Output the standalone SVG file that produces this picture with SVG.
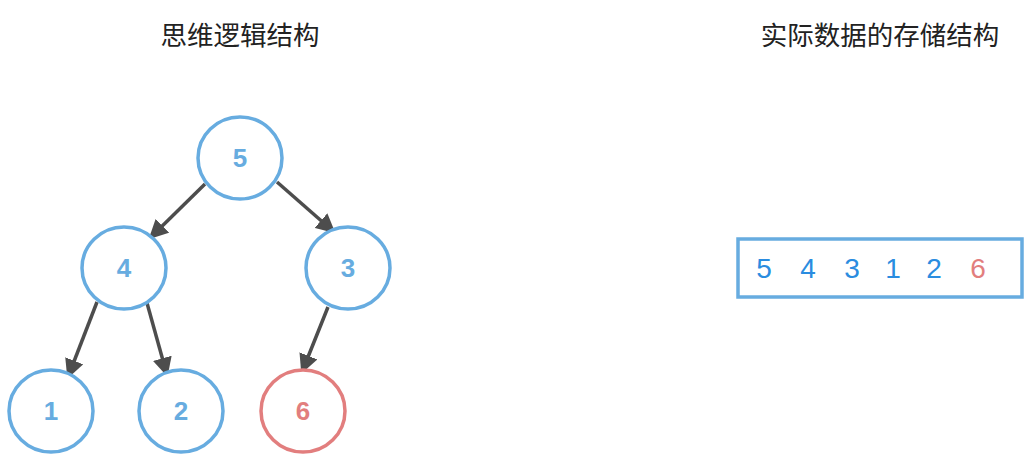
<svg xmlns="http://www.w3.org/2000/svg" width="1031" height="456" viewBox="0 0 1031 456">
<style>
.title{font-family:"Noto Sans CJK SC","Noto Sans",sans-serif;font-size:26.5px;fill:#222;text-anchor:middle}
.node{fill:#fff;stroke:#67ace0;stroke-width:3.5}
.node.red{stroke:#e27e7e}
.lbl{font-family:"Liberation Sans",Arial,sans-serif;font-size:26px;font-weight:bold;fill:#67ace0;text-anchor:middle}
.lbl.red{fill:#e27e7e}
.edge{stroke:#4d4d4d;stroke-width:3.5;fill:none;marker-end:url(#ah)}
.arr{font-family:"Liberation Sans",Arial,sans-serif;font-size:28px;fill:#2a8ce0;text-anchor:middle}
.arr.red{fill:#e27e7e}
</style>
<defs>
<marker id="ah" viewBox="0 0 10 10" refX="9" refY="5" markerWidth="5.5" markerHeight="5.5" orient="auto" markerUnits="strokeWidth">
<path d="M0,0 L10,5 L0,10 z" fill="#4d4d4d"/>
</marker>
</defs>
<rect width="1031" height="456" fill="#fff"/>
<text class="title" x="240" y="45">思维逻辑结构</text>
<text class="title" x="880" y="45">实际数据的存储结构</text>
<g id="connectors">
<line class="edge" x1="205" y1="184" x2="150" y2="238"/>
<line class="edge" x1="277" y1="182" x2="334" y2="232"/>
<line class="edge" x1="97" y1="302" x2="68" y2="377"/>
<line class="edge" x1="147" y1="303" x2="167" y2="375"/>
<line class="edge" x1="328" y1="307" x2="302" y2="372"/>
</g>
<g id="n5"><ellipse class="node" cx="240" cy="158" rx="42" ry="41"/><text class="lbl" x="240" y="167">5</text></g>
<g id="n4"><ellipse class="node" cx="124" cy="268" rx="42" ry="41"/><text class="lbl" x="124" y="277">4</text></g>
<g id="n3"><ellipse class="node" cx="348" cy="268" rx="42" ry="41"/><text class="lbl" x="348" y="277">3</text></g>
<g id="n1"><ellipse class="node" cx="51" cy="411" rx="42" ry="41"/><text class="lbl" x="51" y="420">1</text></g>
<g id="n2"><ellipse class="node" cx="181" cy="411" rx="42" ry="41"/><text class="lbl" x="181" y="420">2</text></g>
<g id="n6"><ellipse class="node red" cx="303" cy="411" rx="42" ry="41"/><text class="lbl red" x="303" y="420">6</text></g>
<g id="array">
<rect x="738" y="239" width="284" height="58" fill="#fff" stroke="#67ace0" stroke-width="3.5"/>
<text class="arr" x="764" y="278">5</text>
<text class="arr" x="808" y="278">4</text>
<text class="arr" x="852" y="278">3</text>
<text class="arr" x="893" y="278">1</text>
<text class="arr" x="934" y="278">2</text>
<text class="arr red" x="978" y="278">6</text>
</g>
</svg>
